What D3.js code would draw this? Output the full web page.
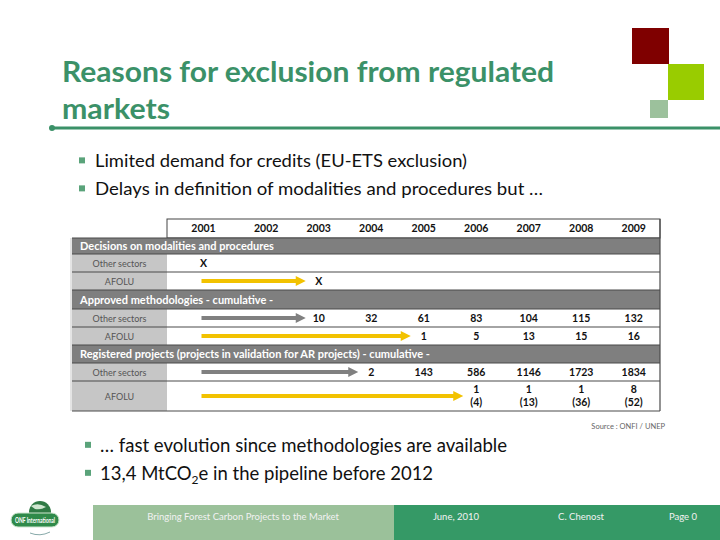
<!DOCTYPE html>
<html><head><meta charset="utf-8">
<script src="https://cdn.jsdelivr.net/npm/d3@7"></script>
<style>html,body{margin:0;padding:0;background:#fff;}svg{display:block;}</style>
</head><body>
<svg id="c" width="720" height="540"></svg>
<script>
// ---------- data ----------
const titleLines = ["Reasons for exclusion from regulated", "markets"];
const bulletsTop = ["Limited demand for credits (EU-ETS exclusion)", "Delays in definition of modalities and procedures but \u2026"];
const bulletsBottom = ["\u2026 fast evolution since methodologies are available", "13,4 MtCO2e in the pipeline before 2012"];
const years = [2001, 2002, 2003, 2004, 2005, 2006, 2007, 2008, 2009];
const sections = ["Decisions on modalities and procedures", "Approved methodologies - cumulative -", "Registered projects (projects in validation for AR projects) - cumulative -"];
const sectorLabels = ["Other sectors", "AFOLU"];
const decisionOther = ["X", null, null, null, null, null, null, null, null];
const decisionAfolu = [null, null, "X", null, null, null, null, null, null];
const approvedOther = [null, null, 10, 32, 61, 83, 104, 115, 132];
const approvedAfolu = [null, null, null, null, 1, 5, 13, 15, 16];
const registeredOther = [null, null, null, 2, 143, 586, 1146, 1723, 1834];
const registeredAfolu = [null, null, null, null, null, 1, 1, 1, 8];
const validationAfolu = [null, null, null, null, null, 4, 13, 36, 52];
const sourceText = "Source : ONFI / UNEP";
const footerTexts = ["Bringing Forest Carbon Projects to the Market", "June, 2010", "C. Chenost", "Page 0"];

// ---------- drawing ----------
const svg = d3.select("#c");
const green = "#3b9168";
const FONT = "Lato, 'Open Sans', sans-serif";

function fitWidth(sel, w) {
  sel.each(function () {
    const cur = this.getComputedTextLength();
    if (cur > 0) d3.select(this).attr("textLength", w).attr("lengthAdjust", "spacingAndGlyphs");
  });
}

// title
const titleW = [492, 108];
svg.append("g").selectAll("text").data(titleLines).join("text")
  .attr("x", 62).attr("y", (d, i) => 82 + i * 37)
  .attr("font-family", FONT).attr("font-weight", 700).attr("font-size", 29)
  .attr("fill", green).text(d => d)
  .each(function (d, i) { fitWidth(d3.select(this), titleW[i]); });
svg.append("line").attr("x1", 52).attr("x2", 720).attr("y1", 128).attr("y2", 128)
  .attr("stroke", green).attr("stroke-width", 3);
svg.append("circle").attr("cx", 52).attr("cy", 128).attr("r", 3).attr("fill", green);

// decorative squares
svg.append("rect").attr("x", 632).attr("y", 28).attr("width", 37).attr("height", 36).attr("fill", "#7f0000");
svg.append("rect").attr("x", 668).attr("y", 64).attr("width", 36).attr("height", 36).attr("fill", "#99cc00");
svg.append("rect").attr("x", 650).attr("y", 100).attr("width", 18).attr("height", 18).attr("fill", "#9cc19c");

// bullets
function bullets(list, widths, bx, tx, y0, dy, fs) {
  const g = svg.append("g");
  list.forEach((t, i) => {
    const y = y0 + i * dy;
    g.append("rect").attr("x", bx).attr("y", y - fs * 0.55).attr("width", 6).attr("height", 6).attr("fill", "#5aa37a");
    const tx_ = g.append("text").attr("x", tx).attr("y", y).attr("font-family", FONT)
      .attr("font-size", fs).attr("fill", "#111");
    if (t.includes("CO2")) {
      const parts = t.split("CO2");
      tx_.append("tspan").text(parts[0] + "CO");
      tx_.append("tspan").attr("font-size", fs * 0.65).attr("dy", 4).text("2");
      tx_.append("tspan").attr("dy", -4).text(parts[1]);
    } else {
      tx_.text(t);
      fitWidth(tx_, widths[i]);
    }
  });
}
bullets(bulletsTop, [372, 448], 79, 95, 167, 28, 17.5);
bullets(bulletsBottom, [407, 327], 85, 100, 452, 28, 18.5);

// ---------- table ----------
const tL = 72, tR = 660, labR = 167;
const colW = [1.39, 1, 1, 1, 1, 1, 1, 1, 1];
const cum = [0, ...d3.cumsum(colW)];
const xw = d3.scaleLinear().domain([0, d3.sum(colW)]).range([labR, tR]);
const xc = i => (xw(cum[i]) + xw(cum[i + 1])) / 2;

const rows = [
  {type: "head", h: 19},
  {type: "sec", h: 16, label: sections[0]},
  {type: "row", h: 18, label: sectorLabels[0], vals: decisionOther, arrow: null},
  {type: "row", h: 18, label: sectorLabels[1], vals: decisionAfolu, arrow: "y"},
  {type: "sec", h: 19, label: sections[1]},
  {type: "row", h: 18, label: sectorLabels[0], vals: approvedOther, arrow: "g"},
  {type: "row", h: 18, label: sectorLabels[1], vals: approvedAfolu, arrow: "y"},
  {type: "sec", h: 18, label: sections[2]},
  {type: "row", h: 18, label: sectorLabels[0], vals: registeredOther, arrow: "g"},
  {type: "row", h: 30, label: sectorLabels[1], vals: registeredAfolu, sub: validationAfolu, arrow: "y"}
];
let yy = 219;
rows.forEach(r => { r.y = yy; yy += r.h; });
const tB = yy;

const tg = svg.append("g");
tg.append("rect").attr("x", tL - 2).attr("y", 238).attr("width", 3).attr("height", tB - 238).attr("fill", "#e4e4e4");
rows.forEach(r => {
  if (r.type === "head") {
    tg.append("rect").attr("x", labR).attr("y", r.y).attr("width", tR - labR).attr("height", r.h)
      .attr("fill", "#fff").attr("stroke", "#444").attr("stroke-width", 1);
    tg.selectAll(null).data(years).join("text")
      .attr("x", (d, i) => xc(i)).attr("y", r.y + 13).attr("text-anchor", "middle")
      .attr("font-family", FONT).attr("font-weight", 700).attr("font-size", 10.5).attr("fill", "#111")
      .text(d => d);
  } else if (r.type === "sec") {
    tg.append("rect").attr("x", tL).attr("y", r.y).attr("width", tR - tL).attr("height", r.h).attr("fill", "#7f7f7f");
    tg.append("text").attr("x", tL + 8).attr("y", r.y + r.h / 2 + 4).attr("font-family", FONT)
      .attr("font-weight", 700).attr("font-size", 11).attr("fill", "#fff").text(r.label);
  } else {
    tg.append("rect").attr("x", tL).attr("y", r.y).attr("width", labR - tL).attr("height", r.h).attr("fill", "#c6c6c6");
    tg.append("rect").attr("x", labR).attr("y", r.y).attr("width", tR - labR).attr("height", r.h).attr("fill", "#fff");
    tg.append("text").attr("x", (tL + labR) / 2).attr("y", r.y + r.h / 2 + 3.5).attr("text-anchor", "middle")
      .attr("font-family", FONT).attr("font-size", 9).attr("fill", "#555").text(r.label);
    const first = r.vals.findIndex(v => v !== null);
    if (r.arrow) {
      const col = r.arrow === "y" ? "#f2c200" : "#808080";
      const ay = r.sub ? r.y + 15 : r.y + r.h / 2;
      const x0 = xc(0) - 2, x1 = xc(first) - 13;
      tg.append("line").attr("x1", x0).attr("x2", x1 - 8).attr("y1", ay).attr("y2", ay)
        .attr("stroke", col).attr("stroke-width", 4);
      tg.append("path").attr("d", `M${x1 - 10},${ay - 5}L${x1},${ay}L${x1 - 10},${ay + 5}Z`).attr("fill", col);
    }
    tg.selectAll(null).data(r.vals.map((v, i) => ({v, i})).filter(d => d.v !== null)).join("text")
      .attr("x", d => xc(d.i)).attr("y", r.sub ? r.y + 12 : r.y + r.h / 2 + 4).attr("text-anchor", "middle")
      .attr("font-family", FONT).attr("font-weight", 700).attr("font-size", 10.5).attr("fill", "#111")
      .text(d => d.v);
    if (r.sub) {
      tg.selectAll(null).data(r.sub.map((v, i) => ({v, i})).filter(d => d.v !== null)).join("text")
        .attr("x", d => xc(d.i)).attr("y", r.y + 25).attr("text-anchor", "middle")
        .attr("font-family", FONT).attr("font-weight", 700).attr("font-size", 10.5).attr("fill", "#111")
        .text(d => "(" + d.v + ")");
    }
  }
});
rows.slice(1).forEach(r => {
  tg.append("line").attr("x1", tL).attr("x2", tR).attr("y1", r.y).attr("y2", r.y).attr("stroke", "#4a4a4a").attr("stroke-width", 1.2);
});
tg.append("line").attr("x1", tL).attr("x2", tR).attr("y1", tB).attr("y2", tB).attr("stroke", "#4a4a4a").attr("stroke-width", 1.2);
tg.append("line").attr("x1", tR).attr("x2", tR).attr("y1", 219).attr("y2", tB).attr("stroke", "#4a4a4a").attr("stroke-width", 1.2);

svg.append("text").attr("x", 665).attr("y", 429).attr("text-anchor", "end").attr("font-family", FONT)
  .attr("font-size", 7.5).attr("fill", "#666").text(sourceText);

// ---------- footer ----------
svg.append("rect").attr("x", 93).attr("y", 505).attr("width", 301).attr("height", 35).attr("fill", "#9bc19a");
svg.append("rect").attr("x", 394).attr("y", 505).attr("width", 326).attr("height", 35).attr("fill", "#359966");
const fx = [243, 456, 581, 683];
svg.append("g").selectAll("text").data(footerTexts).join("text")
  .attr("x", (d, i) => fx[i]).attr("y", 520).attr("text-anchor", "middle")
  .attr("font-family", FONT).attr("font-size", 9.5).attr("fill", "#f2f2f2").text(d => d);

// logo
const lg = svg.append("g");
lg.append("circle").attr("cx", 40).attr("cy", 512).attr("r", 11).attr("fill", "#2f7a45");
lg.append("path").attr("d", "M31,506 Q38,502 46,507 Q41,510 35,509Z").attr("fill", "#cfe6d0");
lg.append("path").attr("d", "M42,514 Q47,511 50,516 Q46,518 43,517Z").attr("fill", "#cfe6d0");
lg.append("path").attr("d", "M30,533 Q40,537 50,532").attr("stroke", "#8aa").attr("stroke-width", 1).attr("fill", "none");
lg.append("rect").attr("x", 11).attr("y", 513).attr("width", 48).attr("height", 14).attr("rx", 7)
  .attr("fill", "#2f8a4a").attr("stroke", "#cfe6d0").attr("stroke-width", 1);
const lt = lg.append("text").attr("x", 15).attr("y", 523).attr("font-family", FONT)
  .attr("font-weight", 700).attr("font-size", 7).attr("fill", "#fff").text("ONF International");
fitWidth(lt, 40);
</script>
</body></html>
